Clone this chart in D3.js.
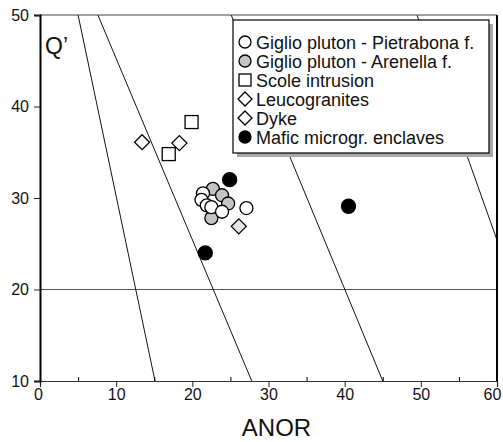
<!DOCTYPE html>
<html>
<head>
<meta charset="utf-8">
<script src="https://cdn.jsdelivr.net/npm/d3@7"></script>
<style>
  body { margin: 0; background: #fff; }
  svg { display: block; font-family: "Liberation Sans", Arial, sans-serif; }
</style>
</head>
<body>
<div id="chart"></div>
<script>
// samples, [ANOR, Q']
const pietrabona = [[21.4, 30.5], [21.2, 29.8], [21.9, 29.2], [22.5, 29.0], [23.9, 28.5], [27.1, 28.9]];
const arenella = [[22.5, 27.8], [22.7, 31.0], [23.9, 30.3], [24.7, 29.4]];
const scole = [[19.9, 38.3], [16.9, 34.8]];
const leucogranites = [[13.4, 36.1], [18.3, 36.0]];
const dyke = [[26.1, 26.9]];
const enclaves = [[24.9, 32.0], [21.7, 24.0], [40.5, 29.1]];

// field boundaries
const fieldLines = [
  [[5.0, 50], [15.1, 10]],
  [[7.6, 50], [27.8, 10]],
  [[25.1, 50], [45.0, 10]],
  [[49.5, 50], [60.0, 25.4]]
];
const hLine = [[0, 20], [60, 20]];

const xTicks = [0, 10, 20, 30, 40, 50, 60];
const xMinor = [5, 15, 25, 35, 45, 55];
const yTicks = [10, 20, 30, 40, 50];

const legendItems = [
  { label: "Giglio pluton - Pietrabona f.", shape: "circle", fill: "#fff" },
  { label: "Giglio pluton - Arenella f.", shape: "circle", fill: "#c4c4c4" },
  { label: "Scole intrusion", shape: "square", fill: "#fff" },
  { label: "Leucogranites", shape: "diamond", fill: "#fff" },
  { label: "Dyke", shape: "diamond", fill: "#fff" },
  { label: "Mafic microgr. enclaves", shape: "circle", fill: "#000" }
];

const width = 503, height = 442;
const svg = d3.select("#chart").append("svg")
  .attr("width", width).attr("height", height);

const x = d3.scaleLinear().domain([0, 60]).range([40, 497]);
const y = d3.scaleLinear().domain([10, 50]).range([381, 15]);

const line = d3.line().x(d => x(d[0])).y(d => y(d[1]));

// horizontal line and field boundaries
svg.append("path").datum(hLine)
  .attr("d", line).attr("stroke", "#555").attr("stroke-width", 1).attr("fill", "none");
svg.selectAll(".field").data(fieldLines).join("path")
  .attr("d", line).attr("stroke", "#111").attr("stroke-width", 1).attr("fill", "none");

// frame top and right
svg.append("line").attr("x1", x(0)).attr("x2", x(60)).attr("y1", y(50)).attr("y2", y(50))
  .attr("stroke", "#444").attr("stroke-width", 1.2);
svg.append("line").attr("x1", x(60)).attr("x2", x(60)).attr("y1", y(50)).attr("y2", y(10))
  .attr("stroke", "#000").attr("stroke-width", 2);

// axes
const xAxis = svg.append("g").attr("transform", `translate(0,${y(10)})`)
  .call(d3.axisBottom(x).tickValues(xTicks).tickSize(6).tickPadding(2).tickFormat(d3.format("d")));
const xMinorAxis = svg.append("g").attr("transform", `translate(0,${y(10)})`)
  .call(d3.axisBottom(x).tickValues(xMinor).tickSize(-4).tickFormat(""));
xMinorAxis.select(".domain").remove();
const yAxis = svg.append("g").attr("transform", `translate(${x(0)},0)`)
  .call(d3.axisLeft(y).tickValues(yTicks).tickSize(6).tickPadding(5).tickFormat(d3.format("d")));

[xAxis, yAxis].forEach(g => {
  g.selectAll("text").attr("font-size", 16).attr("fill", "#111")
    .attr("font-family", "Liberation Sans, Arial, sans-serif");
  g.selectAll("line").attr("stroke", "#222");
});
// keep the last label inside the window
xAxis.selectAll("text").filter(d => d === 60).attr("dx", -5);
xAxis.selectAll("text").filter(d => d === 0).attr("dx", -2);
xAxis.select(".domain").attr("stroke", "#333").attr("stroke-width", 1.2);
yAxis.select(".domain").attr("stroke", "#000").attr("stroke-width", 2);

// axis titles
svg.append("text").attr("x", 45).attr("y", 54).attr("font-size", 23).attr("fill", "#111").text("Q’");
svg.append("text").attr("x", (x(0) + x(60)) / 2 + 8).attr("y", 436)
  .attr("text-anchor", "middle").attr("font-size", 24).attr("fill", "#111").text("ANOR");

// symbol helpers
function drawSymbol(g, shape, cx, cy, fill, size) {
  if (shape === "circle") {
    g.append("circle").attr("cx", cx).attr("cy", cy).attr("r", size / 2)
      .attr("fill", fill).attr("stroke", "#000").attr("stroke-width", 1.3);
  } else if (shape === "square") {
    g.append("rect").attr("x", cx - size / 2).attr("y", cy - size / 2)
      .attr("width", size).attr("height", size)
      .attr("fill", fill).attr("stroke", "#000").attr("stroke-width", 1.3);
  } else {
    const h = size / 2 + 1;
    g.append("path").attr("d", `M${cx},${cy - h}L${cx + h},${cy}L${cx},${cy + h}L${cx - h},${cy}Z`)
      .attr("fill", fill).attr("stroke", "#000").attr("stroke-width", 1.3);
  }
}

const pts = svg.append("g");
arenella.forEach(d => drawSymbol(pts, "circle", x(d[0]), y(d[1]), "#c4c4c4", 13));
pietrabona.forEach(d => drawSymbol(pts, "circle", x(d[0]), y(d[1]), "#fff", 13));
scole.forEach(d => drawSymbol(pts, "square", x(d[0]), y(d[1]), "#fff", 13));
leucogranites.forEach(d => drawSymbol(pts, "diamond", x(d[0]), y(d[1]), "#fff", 13));
dyke.forEach(d => drawSymbol(pts, "diamond", x(d[0]), y(d[1]), "#e6e6e6", 13));
enclaves.forEach(d => drawSymbol(pts, "circle", x(d[0]), y(d[1]), "#000", 14));

// legend
const lg = svg.append("g");
lg.append("rect").attr("x", 237).attr("y", 24).attr("width", 256).attr("height", 133).attr("fill", "#a8a8a8");
lg.append("rect").attr("x", 233).attr("y", 20).attr("width", 256).attr("height", 133)
  .attr("fill", "#fff").attr("stroke", "#000").attr("stroke-width", 1.2);
legendItems.forEach((d, i) => {
  const cy = 42 + i * 19;
  drawSymbol(lg, d.shape, 245, cy, d.fill, 12);
  lg.append("text").attr("x", 256).attr("y", cy + 6.5)
    .attr("font-size", 18).attr("fill", "#111").text(d.label);
});
</script>
</body>
</html>
